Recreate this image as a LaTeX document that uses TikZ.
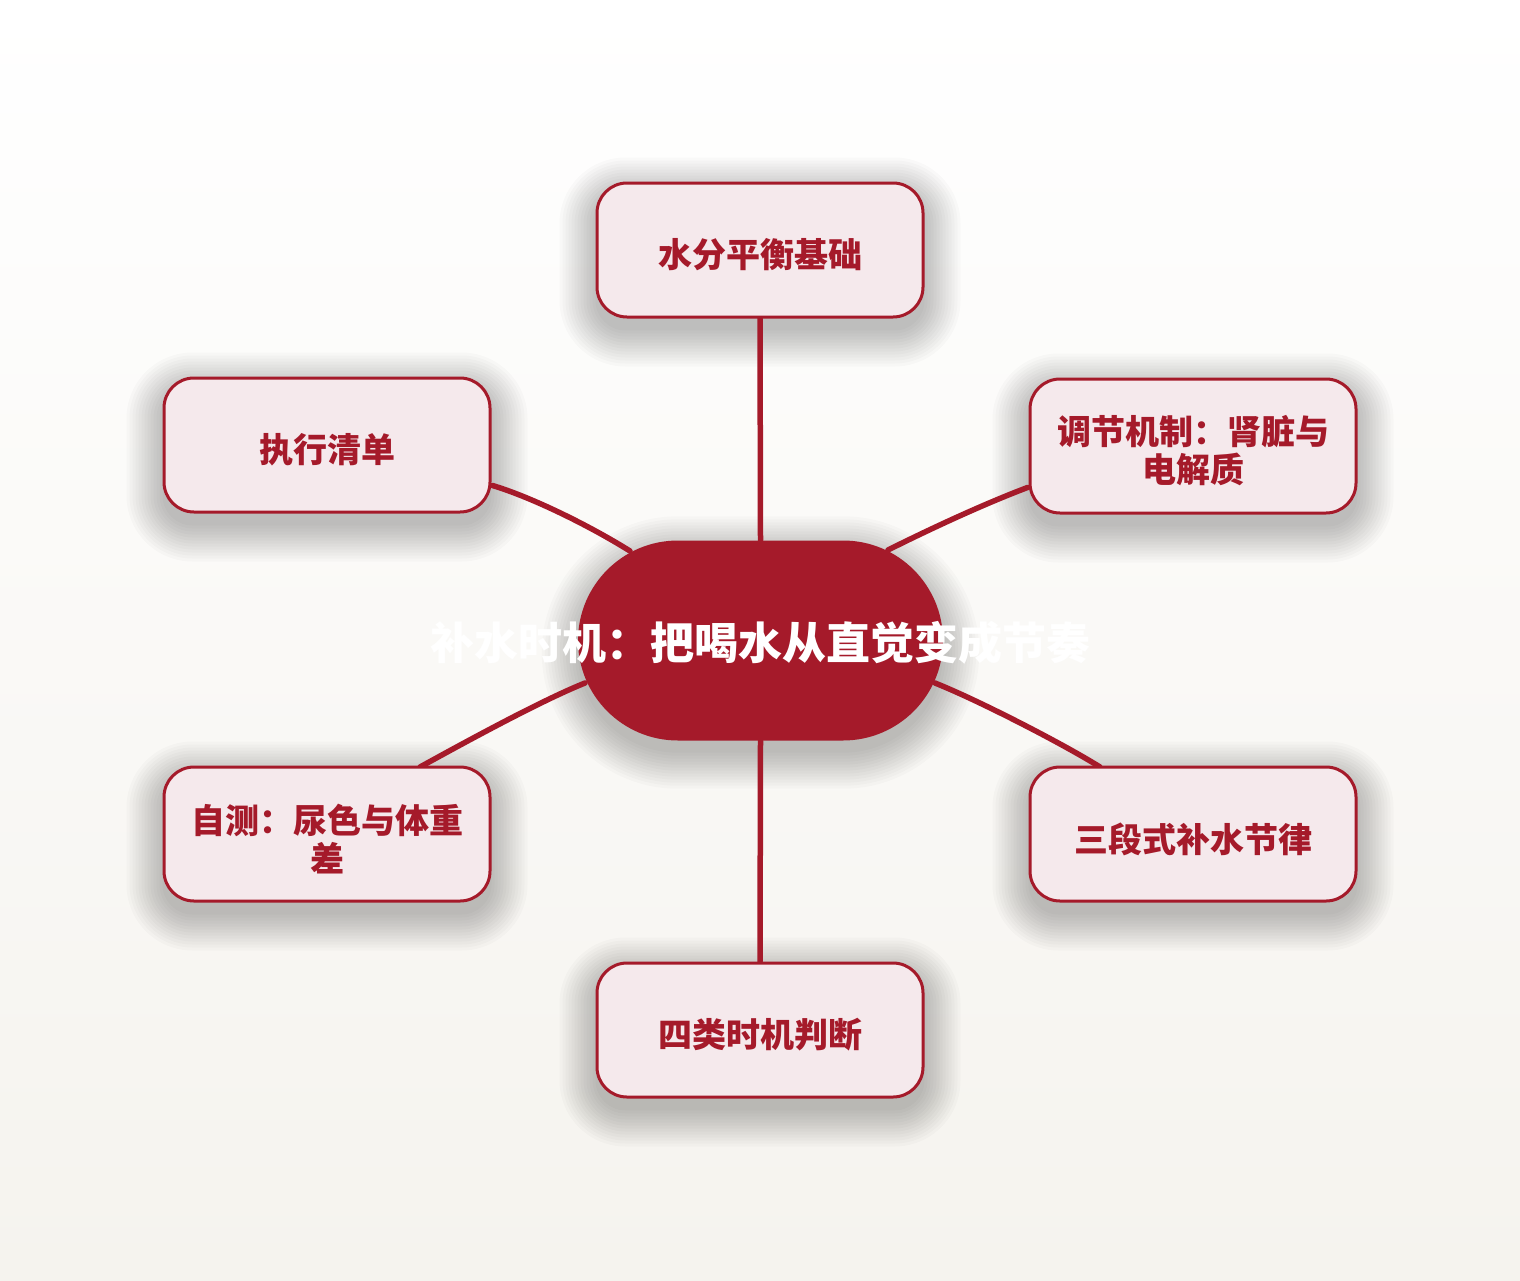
\documentclass[tikz,border=0pt]{standalone}
\usepackage{fontspec}
\setmainfont{Noto Sans CJK SC}
\usetikzlibrary{calc}
\definecolor{dred}{HTML}{A51A2A}
\definecolor{boxfill}{HTML}{F5E9EC}
\definecolor{bgbot}{HTML}{F5F3EE}
\pgfdeclarelayer{bg}
\pgfdeclarelayer{shadowlayer}
\pgfdeclarelayer{edges}
\pgfsetlayers{bg,shadowlayer,edges,main}
\newcommand\mydropshadow[2]{%
  \foreach \s in {0,3,...,36}{%
    \pgfmathsetmacro\rr{#2+\s}%
    \fill[black,opacity=0.021,rounded corners=\rr pt]
      ($(#1.south west)+(-\s,12+\s)$) rectangle ($(#1.north east)+(\s,12-\s)$);}}
\begin{document}
\begin{tikzpicture}[x=1pt,y=-1pt,
  topicbox/.style={draw=dred, line width=3pt, fill=boxfill, rounded corners=30pt,
    minimum width=326pt, minimum height=134pt, inner sep=0pt},
  topictext/.style={inner sep=0pt, align=center, text=dred,
    font=\fontsize{34pt}{38pt}\selectfont\bfseries},
  hubbox/.style={fill=dred, rounded corners=100pt, minimum width=365pt, minimum height=200pt, inner sep=0pt},
  hubtext/.style={text=white, font=\fontsize{44pt}{48pt}\selectfont\bfseries, inner sep=0pt},
  link/.style={draw=dred, line width=5.5pt, line cap=round}]
\useasboundingbox (0,0) rectangle (1520,1280);
\begin{pgfonlayer}{bg}
\shade[top color=white, bottom color=bgbot] (0,0) rectangle (1520,1280);
\end{pgfonlayer}

\node[hubbox] (c) at (760.5,640.5) {};
\node[hubtext] (ct) at (760,643) {补水时机：把喝水从直觉变成节奏};

\node[topicbox] (t) at (760,250) {};
\node[topicbox] (ul) at (327,445) {};
\node[topicbox] (ur) at (1193,446) {};
\node[topicbox] (ll) at (327,834) {};
\node[topicbox] (lr) at (1193,834) {};
\node[topicbox] (b) at (760,1030) {};

\node[topictext] (tT) at ($(t)+(0,5)$) {水分平衡基础};
\node[topictext] (ulT) at ($(ul)+(0,5)$) {执行清单};
\node[topictext] (urT) at ($(ur)+(0,5)$) {调节机制：肾脏与\\电解质};
\node[topictext] (llT) at ($(ll)+(0,5)$) {自测：尿色与体重\\差};
\node[topictext] (lrT) at ($(lr)+(0,5)$) {三段式补水节律};
\node[topictext] (bT) at ($(b)+(0,5)$) {四类时机判断};

\begin{pgfonlayer}{shadowlayer}
\mydropshadow{c}{100}
\mydropshadow{t}{30}
\mydropshadow{ul}{30}
\mydropshadow{ur}{30}
\mydropshadow{ll}{30}
\mydropshadow{lr}{30}
\mydropshadow{b}{30}
\end{pgfonlayer}

\coordinate (ulA) at ($(ul.south east)+(1,-28)$);
\coordinate (urA) at ($(ur.south west)+(-1,-27)$);
\coordinate (llA) at (420,767);
\coordinate (lrA) at (1100,767);
\coordinate (cUL) at (630,551);
\coordinate (cUR) at (888,550);
\coordinate (cLL) at (585,683);
\coordinate (cLR) at (935,683);

\begin{pgfonlayer}{edges}
\draw[link] (t.south) -- (c.north);
\draw[link] (c.south) -- (b.north);
\draw[link] (ulA) .. controls ($(ulA)+(40,12)$) and ($(cUL)+(-40,-25)$) .. (cUL);
\draw[link] (urA) .. controls ($(urA)+(-45,17)$) and ($(cUR)+(40,-20)$) .. (cUR);
\draw[link] (cLL) .. controls ($(cLL)+(-45,18)$) and ($(llA)+(40,-22)$) .. (llA);
\draw[link] (cLR) .. controls ($(cLR)+(45,18)$) and ($(lrA)+(-35,-22)$) .. (lrA);
\end{pgfonlayer}
\end{tikzpicture}
\end{document}
